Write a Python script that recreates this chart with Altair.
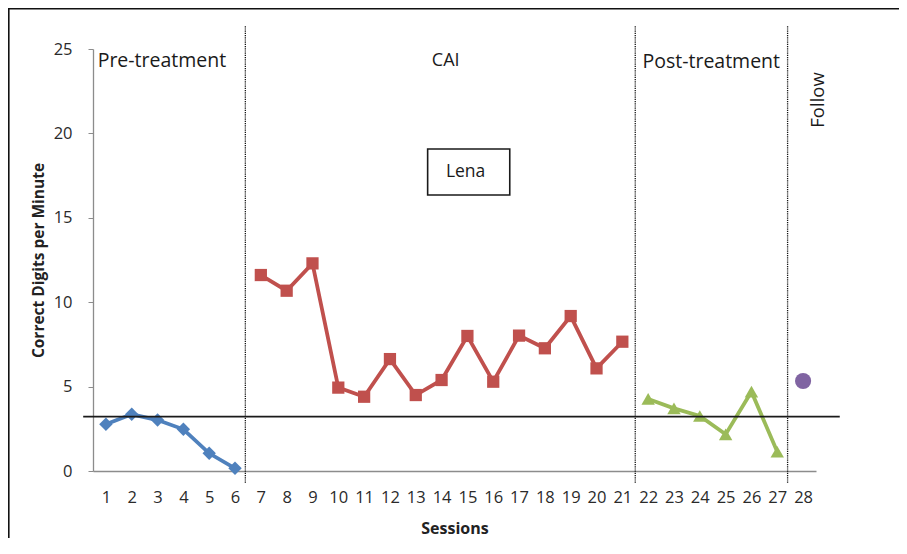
import altair as alt
import pandas as pd

# ---- data ----
pre_sessions = [1, 2, 3, 4, 5, 6]
pre_values = [2.77, 3.36, 3.02, 2.47, 1.05, 0.16]

cai_sessions = [7, 8, 9, 10, 11, 12, 13, 14, 15, 16, 17, 18, 19, 20, 21]
cai_values = [11.61, 10.68, 12.30, 4.94, 4.40, 6.63, 4.50, 5.39, 8.00, 5.29,
              8.02, 7.27, 9.18, 6.08, 7.66]

post_sessions = [22, 23, 24, 25, 26, 27]
post_values = [4.27, 3.71, 3.26, 2.17, 4.70, 1.14]

follow_sessions = [28]
follow_values = [5.33]

x_ticks = list(range(1, 29))
y_ticks = [0, 5, 10, 15, 20, 25]

phase_change_x = [6.4, 21.5, 27.4]
criterion_level = 3.22

FONT = "Open Sans"

def frame(sessions, values, phase):
    return pd.DataFrame({"Session": sessions, "Value": values, "Phase": phase})

pre_df = frame(pre_sessions, pre_values, "Pre-treatment")
cai_df = frame(cai_sessions, cai_values, "CAI")
post_df = frame(post_sessions, post_values, "Post-treatment")
fol_df = frame(follow_sessions, follow_values, "Follow")

xscale = alt.Scale(domain=[0.5, 28.5], nice=False, zero=False)
yscale = alt.Scale(domain=[0, 25], nice=False)

x_axis = alt.Axis(values=x_ticks, format="d", title="Sessions",
                  ticks=False, grid=False, domainColor="#8c8c8c",
                  domainWidth=1.3, labelFontSize=16.5, labelFont=FONT,
                  labelColor="#2a2a2a", labelPadding=18,
                  labelFlush=False, labelOverlap=False, labelSeparation=0,
                  titleFont=FONT, titleFontSize=16, titleFontWeight="bold",
                  titleColor="#222222", titlePadding=15)
y_axis = alt.Axis(values=y_ticks, title="Correct Digits per Minute",
                  grid=False, tickSize=5, tickColor="#8c8c8c",
                  domainColor="#8c8c8c", domainWidth=1.3,
                  labelFontSize=16.5, labelFont=FONT, labelColor="#2a2a2a",
                  labelPadding=16, labelOverlap=False, titleFont=FONT,
                  titleFontSize=15.5, titleFontWeight="bold", titleColor="#222222",
                  titlePadding=7)


def ax(field):
    return alt.X(field, scale=xscale, axis=x_axis)


def ay(field):
    return alt.Y(field, scale=yscale, axis=y_axis)


def series(df, color, shape, size):
    line = alt.Chart(df).mark_line(color=color, strokeWidth=3.8).encode(
        x=ax("Session:Q"), y=ay("Value:Q"))
    pts = alt.Chart(df).mark_point(color=color, shape=shape, filled=True,
                                   size=size, opacity=1).encode(
        x=ax("Session:Q"), y=ay("Value:Q"))
    return line + pts

pre_layer = series(pre_df, "#4F81BD", "diamond", 180)
cai_layer = series(cai_df, "#C0504D", "square", 150)
post_layer = series(post_df, "#9BBB59", "triangle-up", 180)
fol_layer = alt.Chart(fol_df).mark_point(color="#8064A2", shape="circle", filled=True,
                                         size=260, opacity=1).encode(
    x=ax("Session:Q"), y=ay("Value:Q"))

# phase-change dotted lines
pc_df = pd.DataFrame({"x": phase_change_x, "y0": [-0.7] * 3, "y1": [26.4] * 3})
pc_layer = alt.Chart(pc_df).mark_rule(color="#111111", strokeWidth=1.3,
                                      strokeDash=[1.2, 1]).encode(
    x=ax("x:Q"), y=ay("y0:Q"), y2="y1:Q")

# criterion line
crit_df = pd.DataFrame({"x0": [0.12], "x1": [29.42], "y": [criterion_level]})
crit_layer = alt.Chart(crit_df).mark_rule(color="#1a1a1a", strokeWidth=1.8).encode(
    x=ax("x0:Q"), x2="x1:Q", y=ay("y:Q"))

# phase labels
lab_df = pd.DataFrame({
    "text": ["Pre-treatment", "Post-treatment"],
    "x": [0.68, 21.78],
    "y": [23.95, 23.87],
})
lab_layer = alt.Chart(lab_df).mark_text(align="left", baseline="alphabetic",
                                        font=FONT, fontSize=19.5, color="#1a1a1a").encode(
    x=ax("x:Q"), y=ay("y:Q"), text="text:N")

cai_lab = alt.Chart(pd.DataFrame({"text": ["CAI"], "x": [14.16], "y": [24.0]})).mark_text(
    align="center", baseline="alphabetic", font=FONT, fontSize=18, color="#1a1a1a").encode(
    x=ax("x:Q"), y=ay("y:Q"), text="text:N")

follow_lab = alt.Chart(pd.DataFrame({"text": ["Follow"], "x": [28.57], "y": [21.98]})).mark_text(
    align="center", baseline="middle", angle=270, font=FONT, fontSize=18.5,
    color="#1a1a1a").encode(
    x=ax("x:Q"), y=ay("y:Q"), text="text:N")

# Lena box
box_df = pd.DataFrame({"x0": [13.46], "x1": [16.64], "y0": [16.35], "y1": [19.08]})
box_layer = alt.Chart(box_df).mark_rect(fill="white", stroke="#1a1a1a",
                                        strokeWidth=1.6).encode(
    x=ax("x0:Q"), x2="x1:Q", y=ay("y0:Q"), y2="y1:Q")
lena_lab = alt.Chart(pd.DataFrame({"text": ["Lena"], "x": [14.93], "y": [17.71]})).mark_text(
    align="center", baseline="middle", font=FONT, fontSize=17.5, color="#1a1a1a").encode(
    x=ax("x:Q"), y=ay("y:Q"), text="text:N")

# outer frame (top and left edges of the picture border)
one = alt.Data(values=[{"a": 1}])
frame_left = alt.Chart(one).mark_rule(color="#111111", strokeWidth=2.2).encode(
    x=alt.value(-84.5), y=alt.value(-41), y2=alt.value(520))
frame_top = alt.Chart(one).mark_rule(color="#111111", strokeWidth=2.2).encode(
    x=alt.value(-85), x2=alt.value(830), y=alt.value(-40.5))

chart = alt.layer(
    pre_layer, cai_layer, post_layer, fol_layer,
    pc_layer, crit_layer,
    box_layer, lena_lab,
    lab_layer, cai_lab, follow_lab,
    frame_left, frame_top,
).properties(
    width=723, height=422,
    background="white",
    autosize=alt.AutoSizeParams(type="none"),
    padding={"left": 85, "top": 41, "right": 83, "bottom": 67},
).configure_view(strokeWidth=0, stroke="transparent")

chart.save("out.html", embed_options={"renderer": "svg", "actions": False})
